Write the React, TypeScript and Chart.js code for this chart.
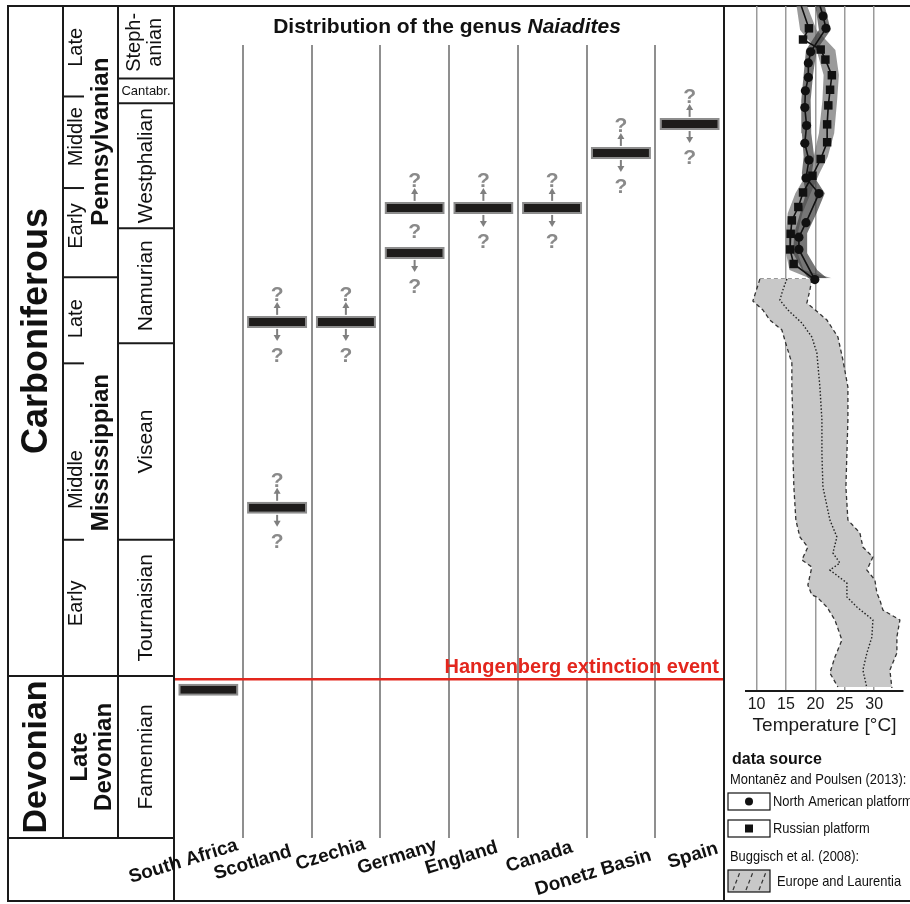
import React, { useEffect, useRef } from 'react';
import { Chart, registerables } from 'chart.js';
Chart.register(...registerables);

const FONT = '"Liberation Sans", Arial, Helvetica, sans-serif';
const W = 910;
const H = 904;

// ---------- distribution data (ages in Ma) ----------
const countries = ['South Africa', 'Scotland', 'Czechia', 'Germany', 'England', 'Canada', 'Donetz Basin', 'Spain'];
const occ1Start = [359.6, 326.65, 326.65, 316.44, 316.44, 316.44, 311.52, 308.92];
const occ1End = [360.68, 327.73, 327.73, 317.52, 317.52, 317.52, 312.6, 310.0];
const occ2Start: (number | null)[] = [null, 343.3, null, 320.47, null, null, null, null];
const occ2End: (number | null)[] = [null, 344.38, null, 321.55, null, null, null, null];
const occ1Up = [false, true, true, true, true, true, true, true];
const occ1Down = [false, true, true, false, true, true, true, true];
const occ2Up = [false, true, false, false, false, false, false, false];
const occ2Down = [false, true, false, true, false, false, false, false];
const gapQuery = [false, false, false, true, false, false, false, false];

const hangenbergAge = 359.2;
const hangenbergLabel = 'Hangenberg extinction event';

// ---------- stratigraphy ----------
const chartTopAge = 298.9;
const chartBaseAge = 373.4;
const periodNames = ['Carboniferous', 'Devonian'];
const periodTops = [298.9, 358.9];
const periodBases = [358.9, 373.4];
const subperiodNames = [['Pennsylvanian'], ['Mississippian'], ['Late', 'Devonian']];
const subperiodTops = [298.9, 323.2, 358.9];
const subperiodBases = [323.2, 358.9, 373.4];
const epochNames = ['Late', 'Middle', 'Early', 'Late', 'Middle', 'Early'];
const epochLabelAges = [302.6, 310.6, 318.6, 326.9, 341.3, 352.4];
const epochTicks = [307.0, 315.2, 330.9, 346.7];
const stageNames = [['Steph-', 'anian'], ['Cantabr.'], ['Westphalian'], ['Namurian'], ['Visean'], ['Tournaisian'], ['Famennian']];
const stageTops = [298.9, 305.4, 307.6, 318.8, 329.1, 346.7, 358.9];
const stageBases = [305.4, 307.6, 318.8, 329.1, 346.7, 358.9, 373.4];

// ---------- temperature data ----------
const tempTicks = [10, 15, 20, 25, 30];
// Montanez & Poulsen (2013), North American platform
const naAge = [298.9, 299.8, 300.9, 303.0, 304.0, 305.3, 306.5, 308.0, 309.6, 311.2, 312.7, 314.3, 315.7, 318.3, 319.6, 320.7, 323.4];
const naTemp = [20.8, 21.3, 21.8, 19.2, 18.8, 18.8, 18.3, 18.2, 18.5, 18.2, 18.9, 18.4, 20.6, 18.4, 17.2, 17.2, 19.9];
// Russian platform
const ruAge = [298.9, 300.9, 301.9, 302.8, 303.7, 305.1, 306.4, 307.8, 309.5, 311.1, 312.6, 314.1, 315.6, 316.9, 318.1, 319.3, 320.7, 322.0, 323.4];
const ruTemp = [17.6, 18.9, 17.9, 20.9, 21.7, 22.8, 22.5, 22.2, 22.0, 22.0, 20.9, 19.5, 17.9, 17.1, 16.0, 15.8, 15.7, 16.3, 19.9];
// uncertainty envelopes
const bandAge = [298.9, 301.05, 302.84, 305.08, 307.32, 310.3, 312.4, 313.88, 315.67, 317.46, 319.26, 321.05, 322.54, 323.29];
const naBandLow = [20.0, 20.6, 18.4, 18.0, 17.6, 17.7, 18.0, 17.7, 18.4, 17.4, 16.4, 16.2, 17.8, 18.8];
const naBandHigh = [21.6, 22.6, 20.2, 19.6, 19.2, 19.3, 19.8, 19.4, 21.6, 20.2, 18.6, 18.6, 20.3, 22.0];
const ruBandLow = [16.8, 17.4, 20.2, 21.4, 21.2, 20.6, 19.7, 18.6, 16.6, 15.3, 15.0, 15.0, 15.6, 19.0];
const ruBandHigh = [18.6, 20.2, 23.4, 24.0, 23.7, 23.2, 22.1, 20.7, 19.2, 17.8, 17.0, 17.0, 18.0, 22.8];
// Buggisch et al. (2008), Europe and Laurentia
const bgLowAge = [323.35, 325.32, 326.12, 327.02, 327.91, 329.44, 330.87, 333.02, 335.97, 338.93, 341.97, 344.93, 346.45, 347.35, 348.51, 349.14, 350.75, 351.64, 351.82, 352.72, 353.88, 355.67, 357.2, 358.63, 359.88];
const bgLowTemp = [10.56, 9.37, 11.07, 12.26, 14.3, 15.15, 16.0, 16.0, 16.17, 16.17, 16.34, 16.68, 17.36, 18.72, 17.7, 19.4, 18.72, 19.4, 20.25, 21.96, 23.32, 24.51, 23.32, 22.47, 23.83];
const bgHighAge = [323.35, 324.33, 325.5, 325.94, 327.02, 328.54, 330.6, 333.02, 335.97, 338.93, 341.97, 344.93, 346.09, 347.35, 348.24, 349.41, 350.3, 351.47, 352.09, 352.99, 353.88, 355.41, 356.84, 358.36, 359.97];
const bgHighTemp = [19.4, 19.07, 18.55, 19.57, 21.96, 23.83, 24.68, 25.53, 25.53, 25.36, 25.19, 25.53, 27.57, 28.08, 29.78, 28.76, 30.12, 30.46, 30.97, 31.48, 34.37, 33.86, 33.86, 32.67, 33.01];
const bgMidAge = [323.35, 324.33, 325.23, 326.12, 327.29, 328.54, 329.97, 333.02, 335.97, 338.93, 341.97, 344.93, 346.45, 347.88, 348.78, 349.41, 350.57, 351.82, 352.72, 353.88, 355.41, 356.84, 358.36, 359.97];
const bgMidTemp = [15.15, 14.47, 13.96, 15.32, 17.7, 19.4, 20.25, 20.77, 21.11, 21.11, 21.28, 22.47, 23.66, 22.98, 24.17, 22.47, 25.36, 25.36, 27.06, 29.78, 29.61, 28.76, 28.08, 28.76];

// label placement (layout only)
const labelDx = [29, 14, 19, 22, 14, 20, 30, 28];
const labelDy = [845, 851, 844, 845, 847, 847, 855, 848];

const pts = (ages: number[], temps: number[]) => ages.map((a, i) => ({ x: temps[i], y: a }));

function txt(ctx: CanvasRenderingContext2D, s: string, x: number, y: number, font: string, color: string,
  align: CanvasTextAlign = 'center', baseline: CanvasTextBaseline = 'middle', rot = 0, sx = 1) {
  ctx.save();
  ctx.translate(x, y);
  if (rot) ctx.rotate((rot * Math.PI) / 180);
  if (sx !== 1) ctx.scale(sx, 1);
  ctx.font = font;
  ctx.fillStyle = color;
  ctx.textAlign = align;
  ctx.textBaseline = baseline;
  ctx.fillText(s, 0, 0);
  ctx.restore();
}

function line(ctx: CanvasRenderingContext2D, x0: number, y0: number, x1: number, y1: number) {
  ctx.beginPath();
  ctx.moveTo(x0, y0);
  ctx.lineTo(x1, y1);
  ctx.stroke();
}

function arrow(ctx: CanvasRenderingContext2D, x: number, y0: number, y1: number) {
  const dir = Math.sign(y1 - y0);
  ctx.save();
  ctx.strokeStyle = '#7f7f7f';
  ctx.fillStyle = '#7f7f7f';
  ctx.lineWidth = 2;
  line(ctx, x, y0, x, y1 - dir * 4);
  ctx.beginPath();
  ctx.moveTo(x, y1);
  ctx.lineTo(x - 3.5, y1 - dir * 6);
  ctx.lineTo(x + 3.5, y1 - dir * 6);
  ctx.closePath();
  ctx.fill();
  ctx.restore();
}

const QFONT = `bold 21px ${FONT}`;
const QCOL = '#8a8a8a';

const overlayPlugin = {
  id: 'overlay',
  afterDatasetsDraw(chart: any) {
    const ctx: CanvasRenderingContext2D = chart.ctx;
    const flags = [[occ1Up, occ1Down], [occ2Up, occ2Down]];
    const bounds: any[] = [[], []];
    [0, 1].forEach((d) => {
      const meta = chart.getDatasetMeta(d);
      meta.data.forEach((el: any, i: number) => {
        const raw = chart.data.datasets[d].data[i];
        if (!raw) return;
        const top = Math.min(el.y, el.base);
        const bot = Math.max(el.y, el.base);
        bounds[d][i] = { top, bot, x: el.x };
        if (flags[d][0][i]) {
          arrow(ctx, el.x, top - 1, top - 14);
          txt(ctx, '?', el.x, top - 15, QFONT, QCOL, 'center', 'alphabetic');
        }
        if (flags[d][1][i]) {
          arrow(ctx, el.x, bot + 1, bot + 13);
          txt(ctx, '?', el.x, bot + 34, QFONT, QCOL, 'center', 'alphabetic');
        }
      });
    });
    gapQuery.forEach((g, i) => {
      if (!g || !bounds[0][i] || !bounds[1][i]) return;
      const a = bounds[0][i], b = bounds[1][i];
      const mid = a.bot < b.top ? (a.bot + b.top) / 2 : (b.bot + a.top) / 2;
      txt(ctx, '?', a.x, mid + 7.5, QFONT, QCOL, 'center', 'alphabetic');
    });
  },
  afterDraw(chart: any) {
    const ctx: CanvasRenderingContext2D = chart.ctx;
    const ys = chart.scales.y;
    const xs = chart.scales.x;
    const py = (v: number) => ys.getPixelForValue(v);
    const X0 = 8, X1 = 63, X2 = 118, X3 = 174, XR = chart.chartArea.right, XE = 910, YB = 901;
    const yTop = py(chartTopAge);
    const yBase = py(chartBaseAge);

    // red Hangenberg line
    const yr = py(hangenbergAge);
    ctx.save();
    ctx.strokeStyle = '#e3261d';
    ctx.lineWidth = 2.5;
    line(ctx, X3, yr, XR, yr);
    ctx.restore();
    txt(ctx, hangenbergLabel, XR - 5, yr - 6, `bold 20px ${FONT}`, '#e3261d', 'right', 'alphabetic');

    // frame and stratigraphic table
    ctx.save();
    ctx.strokeStyle = '#1a1a1a';
    ctx.lineWidth = 2;
    line(ctx, X0, yTop, XE, yTop);
    line(ctx, X0, YB, XE, YB);
    line(ctx, X0, yTop - 1, X0, YB + 1);
    line(ctx, X3, yTop - 1, X3, YB + 1);
    line(ctx, XR, yTop - 1, XR, YB + 1);
    line(ctx, X1, yTop, X1, yBase);
    line(ctx, X2, yTop, X2, yBase);
    line(ctx, X0, yBase, X3, yBase);
    periodTops.forEach((t) => line(ctx, X0, py(t), X3, py(t)));
    subperiodTops.forEach((t) => line(ctx, X1, py(t), X2, py(t)));
    stageTops.forEach((t) => line(ctx, X2, py(t), X3, py(t)));
    epochTicks.forEach((t) => line(ctx, X1, py(t), X1 + 21, py(t)));
    ctx.restore();

    const ink = '#111';
    // periods
    periodNames.forEach((n, i) => {
      const yc = (py(periodTops[i]) + py(periodBases[i])) / 2 - (i === 0 ? 10 : 0);
      txt(ctx, n, 37, yc, `bold ${i === 0 ? 36 : 34}px ${FONT}`, ink, 'center', 'middle', -90);
    });
    // subperiods
    subperiodNames.forEach((n, i) => {
      const yc = (py(subperiodTops[i]) + py(subperiodBases[i])) / 2 - (i === 1 ? 24 : 0);
      if (n.length === 1) {
        txt(ctx, n[0], 101, yc, `bold 24px ${FONT}`, ink, 'center', 'middle', -90);
      } else {
        txt(ctx, n[0], 80, yc, `bold 24px ${FONT}`, ink, 'center', 'middle', -90);
        txt(ctx, n[1], 104, yc, `bold 24px ${FONT}`, ink, 'center', 'middle', -90);
      }
    });
    // epochs
    epochNames.forEach((n, i) => {
      txt(ctx, n, 76, py(epochLabelAges[i]), `20px ${FONT}`, ink, 'center', 'middle', -90);
    });
    // stages
    stageNames.forEach((n, i) => {
      const yc = (py(stageTops[i]) + py(stageBases[i])) / 2;
      if (n.length === 2) {
        txt(ctx, n[0], 134, yc, `20px ${FONT}`, ink, 'center', 'middle', -90);
        txt(ctx, n[1], 155, yc, `20px ${FONT}`, ink, 'center', 'middle', -90);
      } else if (n[0] === 'Cantabr.') {
        txt(ctx, n[0], 146, yc + 1, `13px ${FONT}`, ink, 'center', 'middle');
      } else {
        txt(ctx, n[0], 146, yc, `21px ${FONT}`, ink, 'center', 'middle', -90);
      }
    });

    // title
    const t1 = 'Distribution of the genus ';
    const t2 = 'Naiadites';
    ctx.save();
    ctx.font = `bold 21px ${FONT}`;
    const w1 = ctx.measureText(t1).width;
    ctx.font = `italic bold 21px ${FONT}`;
    const w2 = ctx.measureText(t2).width;
    ctx.restore();
    const cx = (chart.chartArea.left + XR) / 2 - 2;
    const sx0 = cx - (w1 + w2) / 2;
    txt(ctx, t1, sx0, 33, `bold 21px ${FONT}`, ink, 'left', 'alphabetic');
    txt(ctx, t2, sx0 + w1, 33, `italic bold 21px ${FONT}`, ink, 'left', 'alphabetic');

    // country labels
    countries.forEach((c, i) => {
      const x = xs.getPixelForValue(i);
      txt(ctx, c, x + labelDx[i], labelDy[i], `bold 19px ${FONT}`, ink, 'right', 'middle', -17);
    });

    // legend (data source)
    const LX = 730;
    txt(ctx, 'data source', LX + 2, 760, `bold 16px ${FONT}`, ink, 'left', 'middle');
    txt(ctx, 'Montanēz and Poulsen (2013):', LX, 780, `15px ${FONT}`, ink, 'left', 'middle', 0, 0.86);
    ctx.save();
    ctx.strokeStyle = '#111';
    ctx.lineWidth = 1.2;
    ctx.strokeRect(728, 793, 42, 17);
    ctx.strokeRect(728, 820, 42, 17);
    ctx.fillStyle = '#111';
    ctx.beginPath();
    ctx.arc(749, 801.5, 4, 0, Math.PI * 2);
    ctx.fill();
    ctx.fillRect(745, 824.5, 8, 8);
    ctx.fillStyle = '#c8c8c8';
    ctx.fillRect(728, 870, 42, 22);
    ctx.strokeRect(728, 870, 42, 22);
    ctx.setLineDash([4, 3]);
    ctx.strokeStyle = '#333';
    [733, 746, 759].forEach((x) => line(ctx, x, 890, x + 7, 872));
    ctx.restore();
    txt(ctx, 'North American platform', 773, 802, `15px ${FONT}`, ink, 'left', 'middle', 0, 0.86);
    txt(ctx, 'Russian platform', 773, 829, `15px ${FONT}`, ink, 'left', 'middle', 0, 0.86);
    txt(ctx, 'Buggisch et al. (2008):', LX, 857, `15px ${FONT}`, ink, 'left', 'middle', 0, 0.86);
    txt(ctx, 'Europe and Laurentia', 777, 882, `15px ${FONT}`, ink, 'left', 'middle', 0, 0.86);
  },
};

const barStyle = {
  backgroundColor: '#1e1c1b',
  borderColor: '#8d8d8d',
  borderWidth: 2,
  borderSkipped: false,
  grouped: false,
  categoryPercentage: 1,
  barPercentage: 0.875,
};

export default function App() {
  const mainRef = useRef<HTMLCanvasElement>(null);
  const tempRef = useRef<HTMLCanvasElement>(null);

  useEffect(() => {
    Chart.defaults.font.family = FONT;
    const main = new Chart(mainRef.current as HTMLCanvasElement, {
      type: 'bar',
      data: {
        labels: countries,
        datasets: [
          { data: countries.map((_, i) => [occ1Start[i], occ1End[i]]), ...barStyle } as any,
          {
            data: countries.map((_, i) => (occ2Start[i] == null ? null : [occ2Start[i], occ2End[i]])),
            ...barStyle,
          } as any,
        ],
      },
      options: {
        animation: false,
        responsive: false,
        events: [],
        layout: { padding: { left: 174, right: 186, top: 45, bottom: 66 } },
        plugins: { legend: { display: false }, tooltip: { enabled: false } },
        scales: {
          x: {
            type: 'category',
            offset: true,
            grid: { offset: true, color: '#8f8f8f', lineWidth: 2, drawTicks: false },
            border: { display: false },
            ticks: { display: false },
            afterFit: (s: any) => {
              s.height = 0;
            },
          },
          y: { type: 'linear', reverse: true, min: 302.39, max: 373.41, display: false },
        },
      } as any,
      plugins: [overlayPlugin],
    });

    const lineDs = (data: any[], extra: any) => ({
      type: 'line',
      data,
      pointRadius: 0,
      borderWidth: 0,
      fill: false,
      tension: 0,
      ...extra,
    });

    const temp = new Chart(tempRef.current as HTMLCanvasElement, {
      type: 'line',
      data: {
        datasets: [
          lineDs(pts(naAge, naTemp), {
            borderColor: '#111',
            borderWidth: 1.6,
            pointRadius: naAge.map((_, i) => (i === 0 ? 0 : 4.6)),
            pointStyle: 'circle',
            pointBackgroundColor: '#111',
            pointBorderColor: '#111',
            pointBorderWidth: 0,
          }),
          lineDs(pts(ruAge, ruTemp), {
            borderColor: '#111',
            borderWidth: 1.6,
            pointRadius: ruAge.map((_, i) => (i === 0 || i === ruAge.length - 1 ? 0 : 6)),
            pointStyle: 'rect',
            pointBackgroundColor: '#111',
            pointBorderColor: '#111',
            pointBorderWidth: 0,
          }),
          lineDs(pts(bandAge, naBandLow), {}),
          lineDs(pts(bandAge, naBandHigh), { fill: '-1', backgroundColor: 'rgba(65,65,65,0.72)' }),
          lineDs(pts(bandAge, ruBandLow), {}),
          lineDs(pts(bandAge, ruBandHigh), { fill: '-1', backgroundColor: 'rgba(120,120,120,0.75)' }),
          lineDs(pts(bgMidAge, bgMidTemp), { borderColor: '#222', borderWidth: 1.4, borderDash: [1.5, 2] }),
          lineDs(pts(bgLowAge, bgLowTemp), { borderColor: '#333', borderWidth: 1.3, borderDash: [4, 3] }),
          lineDs(pts(bgHighAge, bgHighTemp), {
            borderColor: '#333',
            borderWidth: 1.3,
            borderDash: [4, 3],
            fill: '-1',
            backgroundColor: '#c8c8c8',
          }),
          lineDs([{ x: bgLowTemp[0], y: bgLowAge[0] }, { x: bgHighTemp[0], y: bgHighAge[0] }], {
            borderColor: '#333',
            borderWidth: 1.3,
            borderDash: [4, 3],
          }),
        ] as any,
      },
      options: {
        indexAxis: 'y',
        animation: false,
        responsive: false,
        events: [],
        layout: { padding: { left: 22, right: 7, top: 6, bottom: 165 } },
        plugins: { legend: { display: false }, tooltip: { enabled: false } },
        scales: {
          x: {
            type: 'linear',
            min: 8.2,
            max: 34.9,
            afterBuildTicks: (s: any) => {
              s.ticks = tempTicks.map((v) => ({ value: v }));
            },
            grid: { color: '#9b9b9b', lineWidth: 1.5, drawTicks: false },
            border: { display: true, color: '#1a1a1a', width: 2 },
            ticks: { color: '#1a1a1a', font: { size: 16 }, padding: 4, maxRotation: 0, autoSkip: false },
            title: {
              display: true,
              text: 'Temperature [°C]',
              color: '#1a1a1a',
              font: { size: 19 },
              padding: { top: 0, bottom: 2 },
            },
            afterFit: (s: any) => {
              s.height = 48;
            },
          },
          y: { type: 'linear', reverse: true, min: 298.9, max: 360.24, display: false },
        },
      } as any,
    });

    return () => {
      main.destroy();
      temp.destroy();
    };
  }, []);

  return (
    <div style={{ position: 'absolute', left: 0, top: 0, width: W, height: H, background: '#fff', overflow: 'hidden' }}>
      <canvas ref={mainRef} width={W} height={H} style={{ position: 'absolute', left: 0, top: 0 }} />
      <canvas ref={tempRef} width={186} height={H} style={{ position: 'absolute', left: 724, top: 0 }} />
    </div>
  );
}
